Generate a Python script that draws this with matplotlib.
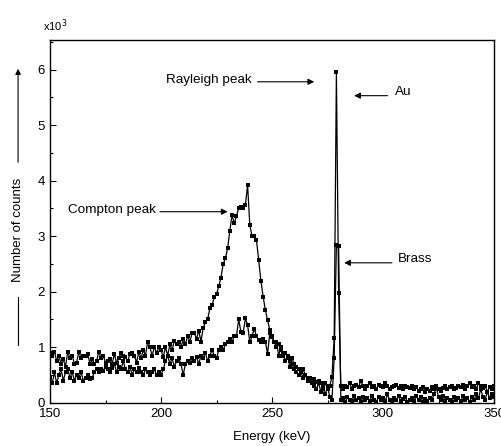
import numpy as np
import matplotlib
matplotlib.use('Agg')
from matplotlib import pyplot as plt
from matplotlib.ticker import MultipleLocator

plt.rcParams['font.family'] = ['Liberation Sans', 'DejaVu Sans']

# energy axis, 1 keV per channel (150 ... 350)
energy = np.arange(150, 351)

# counts in units of 10^3, ten channels per row
au = [
    0.90, 0.85, 0.92, 0.75, 0.85, 0.70, 0.78, 0.65, 0.92, 0.80,  # 150
    0.85, 0.70, 0.72, 0.92, 0.80, 0.85, 0.85, 0.88, 0.70, 0.78,  # 160
    0.70, 0.75, 0.92, 0.80, 0.85, 0.72, 0.75, 0.78, 0.70, 0.88,  # 170
    0.72, 0.80, 0.90, 0.85, 0.82, 0.75, 0.88, 0.90, 0.85, 0.72,  # 180
    0.92, 0.80, 0.95, 0.85, 1.10, 1.00, 0.85, 1.00, 0.90, 1.00,  # 190
    0.95, 0.82, 1.00, 0.85, 1.05, 0.95, 1.12, 1.05, 1.10, 1.00,  # 200
    1.15, 1.05, 1.20, 1.10, 1.25, 1.25, 1.15, 1.30, 1.10, 1.35,  # 210
    1.45, 1.50, 1.70, 1.76, 1.90, 1.95, 2.10, 2.25, 2.50, 2.60,  # 220
    2.78, 3.10, 3.38, 3.23, 3.36, 3.51, 3.53, 3.50, 3.56, 3.92,  # 230
    3.20, 3.00, 3.00, 2.93, 2.57, 2.20, 1.91, 1.67, 1.49, 1.31,  # 240
    1.20, 1.10, 1.00, 1.05, 0.95, 0.85, 0.90, 0.80, 0.75, 0.80,  # 250
    0.70, 0.65, 0.60, 0.55, 0.60, 0.50, 0.45, 0.45, 0.40, 0.42,  # 260
    0.38, 0.40, 0.35, 0.30, 0.35, 0.25, 0.30, 0.47, 1.16, 5.95,  # 270
    1.97, 0.30, 0.25, 0.30, 0.28, 0.35, 0.25, 0.30, 0.32, 0.28,  # 280
    0.40, 0.30, 0.25, 0.30, 0.35, 0.28, 0.30, 0.25, 0.32, 0.30,  # 290
    0.28, 0.35, 0.30, 0.25, 0.28, 0.30, 0.32, 0.27, 0.30, 0.25,  # 300
    0.30, 0.28, 0.26, 0.30, 0.25, 0.28, 0.22, 0.25, 0.28, 0.20,  # 310
    0.25, 0.22, 0.28, 0.25, 0.30, 0.25, 0.22, 0.27, 0.30, 0.25,  # 320
    0.28, 0.30, 0.25, 0.27, 0.30, 0.28, 0.32, 0.25, 0.30, 0.35,  # 330
    0.28, 0.30, 0.25, 0.35, 0.30, 0.27, 0.30, 0.20, 0.28, 0.25,  # 340
    0.30,                                                        # 350
]

brass = [
    0.45, 0.35, 0.55, 0.35, 0.50, 0.60, 0.40, 0.55, 0.60, 0.45,  # 150
    0.55, 0.40, 0.50, 0.45, 0.55, 0.40, 0.45, 0.50, 0.42, 0.45,  # 160
    0.55, 0.60, 0.55, 0.60, 0.58, 0.65, 0.60, 0.55, 0.62, 0.70,  # 170
    0.55, 0.65, 0.60, 0.75, 0.60, 0.55, 0.65, 0.50, 0.60, 0.55,  # 180
    0.62, 0.55, 0.50, 0.60, 0.55, 0.50, 0.55, 0.60, 0.50, 0.55,  # 190
    0.50, 0.60, 0.75, 0.85, 0.70, 0.80, 0.65, 0.75, 0.80, 0.70,  # 200
    0.50, 0.70, 0.75, 0.72, 0.80, 0.75, 0.82, 0.70, 0.85, 0.80,  # 210
    0.90, 0.75, 0.85, 0.95, 0.85, 0.80, 0.95, 1.00, 0.95, 1.05,  # 220
    1.10, 1.15, 1.10, 1.20, 1.20, 1.50, 1.28, 1.25, 1.52, 1.40,  # 230
    1.09, 1.20, 1.33, 1.20, 1.13, 1.10, 1.15, 1.10, 0.88, 1.25,  # 240
    1.18, 1.10, 1.10, 0.85, 1.00, 0.90, 0.75, 0.85, 0.65, 0.70,  # 250
    0.60, 0.55, 0.50, 0.55, 0.45, 0.50, 0.40, 0.42, 0.35, 0.30,  # 260
    0.25, 0.35, 0.20, 0.25, 0.15, 0.30, 0.10, 0.05, 0.80, 2.84,  # 270
    2.82, 0.05, 0.08, 0.02, 0.10, 0.05, 0.03, 0.12, 0.05, 0.08,  # 280
    0.02, 0.10, 0.05, 0.08, 0.03, 0.12, 0.05, 0.02, 0.10, 0.05,  # 290
    0.08, 0.03, 0.15, 0.05, 0.02, 0.08, 0.05, 0.12, 0.03, 0.06,  # 300
    0.10, 0.02, 0.05, 0.08, 0.03, 0.12, 0.05, 0.10, 0.02, 0.06,  # 310
    0.03, 0.08, 0.05, 0.15, 0.28, 0.10, 0.05, 0.12, 0.03, 0.08,  # 320
    0.05, 0.02, 0.10, 0.05, 0.08, 0.03, 0.12, 0.05, 0.08, 0.02,  # 330
    0.10, 0.05, 0.15, 0.08, 0.25, 0.10, 0.05, 0.20, 0.08, 0.15,  # 340
    0.10,                                                        # 350
]

fig = plt.figure(figsize=(5.02, 4.46), dpi=100)
ax = fig.add_axes([0.0996, 0.097, 0.8845, 0.813])

for serie in (au, brass):
    ax.plot(energy, serie, color='black', lw=0.9, marker='s', ms=2.4,
            mew=0)

ax.set_xlim(150, 350)
ax.set_ylim(0, 6.53)
ax.xaxis.set_major_locator(MultipleLocator(50))
ax.xaxis.set_minor_locator(MultipleLocator(25))
ax.yaxis.set_major_locator(MultipleLocator(1))
ax.yaxis.set_minor_locator(MultipleLocator(0.5))
ax.tick_params(which='both', direction='in', labelsize=9.5, width=0.8)
ax.tick_params(which='major', length=4)
ax.tick_params(which='minor', length=2.5)
for sp in ax.spines.values():
    sp.set_linewidth(1.0)

ax.set_xlabel('Energy (keV)', fontsize=9.5, labelpad=8)
fig.text(0.085, 0.942, 'x10$^3$', fontsize=8, ha='left', va='center')

# y label with its long arrow
fig.text(0.036, 0.485, 'Number of counts', rotation=90, fontsize=9.5,
         ha='center', va='center')
fig.add_artist(matplotlib.lines.Line2D([0.036, 0.036], [0.226, 0.334],
                                       color='black', lw=0.8))
fig.add_artist(matplotlib.patches.FancyArrowPatch(
    (0.036, 0.630), (0.036, 0.852), transform=fig.transFigure,
    arrowstyle='-|>', mutation_scale=8, color='black', lw=0.8))

arrow = dict(arrowstyle='-|>', color='black', lw=0.8, mutation_scale=9,
             shrinkA=0, shrinkB=0)
ax.text(241, 5.81, 'Rayleigh peak', fontsize=9.7, ha='right', va='center')
ax.annotate('', xy=(269, 5.78), xytext=(243.5, 5.78), arrowprops=arrow)
ax.text(305.5, 5.6, 'Au', fontsize=9.7, ha='left', va='center')
ax.annotate('', xy=(287, 5.53), xytext=(302, 5.53), arrowprops=arrow)
ax.text(197.5, 3.47, 'Compton peak', fontsize=9.7, ha='right', va='center')
ax.annotate('', xy=(230, 3.44), xytext=(199.5, 3.44), arrowprops=arrow)
ax.text(306.5, 2.59, 'Brass', fontsize=9.7, ha='left', va='center')
ax.annotate('', xy=(282.5, 2.52), xytext=(304, 2.52), arrowprops=arrow)

fig.savefig('out.png', dpi=100)
